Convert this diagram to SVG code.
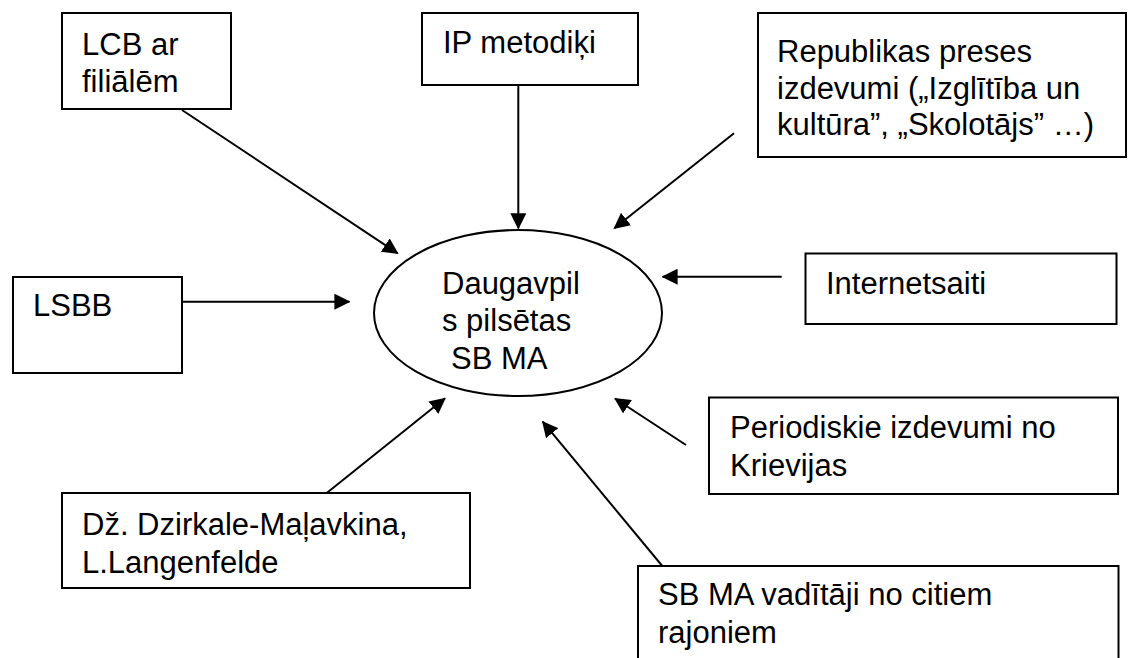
<svg xmlns="http://www.w3.org/2000/svg" width="1128" height="658" viewBox="0 0 1128 658">
<style>
.box{fill:#fff;stroke:#000;stroke-width:2}
.t{font-family:"Liberation Sans",Arial,sans-serif;font-size:31px;fill:#000}
.c{stroke:#000;stroke-width:2;fill:none;marker-end:url(#ah)}
</style>
<defs>
<marker id="ah" markerUnits="userSpaceOnUse" markerWidth="16" markerHeight="16" viewBox="0 0 15 15" refX="14" refY="7.5" orient="auto">
<path d="M0,0 L15,7.5 L0,15 z" fill="#000"/>
</marker>
</defs>
<rect width="1128" height="658" fill="#fff"/>
<g id="n-lcb"><rect class="box" x="62" y="13" width="169" height="96"/><text class="t" x="82" y="55">LCB ar</text><text class="t" x="82" y="92">filiālēm</text></g>
<g id="n-ip"><rect class="box" x="422" y="13" width="216" height="72"/><text class="t" x="443" y="53">IP metodiķi</text></g>
<g id="n-rep"><rect class="box" x="758" y="13" width="368" height="144"/><text class="t" x="777" y="62">Republikas preses</text><text class="t" x="777" y="98.5">izdevumi („Izglītība un</text><text class="t" x="777" y="135">kultūra”, „Skolotājs” …)</text></g>
<g id="n-lsbb"><rect class="box" x="13" y="277" width="169" height="96"/><text class="t" x="33" y="316">LSBB</text></g>
<g id="n-center"><ellipse class="box" cx="518" cy="313" rx="144" ry="83"/><text class="t" x="442" y="293.5">Daugavpil</text><text class="t" x="442" y="331">s pilsētas</text><text class="t" x="451" y="369">SB MA</text></g>
<g id="n-int"><rect class="box" x="805.5" y="253.5" width="311" height="70.5"/><text class="t" x="826" y="294">Internetsaiti</text></g>
<g id="n-per"><rect class="box" x="709" y="397.5" width="409" height="96.5"/><text class="t" x="730" y="437.5">Periodiskie izdevumi no</text><text class="t" x="730" y="476">Krievijas</text></g>
<g id="n-dz"><rect class="box" x="62" y="493" width="408" height="95"/><text class="t" x="82" y="535">Dž. Dzirkale-Maļavkina,</text><text class="t" x="82" y="572.5">L.Langenfelde</text></g>
<g id="n-sbma"><rect class="box" x="638" y="566" width="480.5" height="100"/><text class="t" x="658" y="605">SB MA vadītāji no citiem</text><text class="t" x="658" y="643">rajoniem</text></g>
<g id="connectors">
<line class="c" x1="182" y1="110" x2="397.7" y2="253.3"/>
<line class="c" x1="518.3" y1="85" x2="518.3" y2="228.3"/>
<line class="c" x1="734" y1="133.3" x2="614.3" y2="228.3"/>
<line class="c" x1="781.7" y1="276.7" x2="662.7" y2="276.7"/>
<line class="c" x1="183" y1="301.7" x2="349.3" y2="301.7"/>
<line class="c" x1="686" y1="445" x2="615" y2="398.5"/>
<line class="c" x1="662.3" y1="566" x2="542.7" y2="421.7"/>
<line class="c" x1="326.7" y1="493" x2="445" y2="398.3"/>
</g>
</svg>
